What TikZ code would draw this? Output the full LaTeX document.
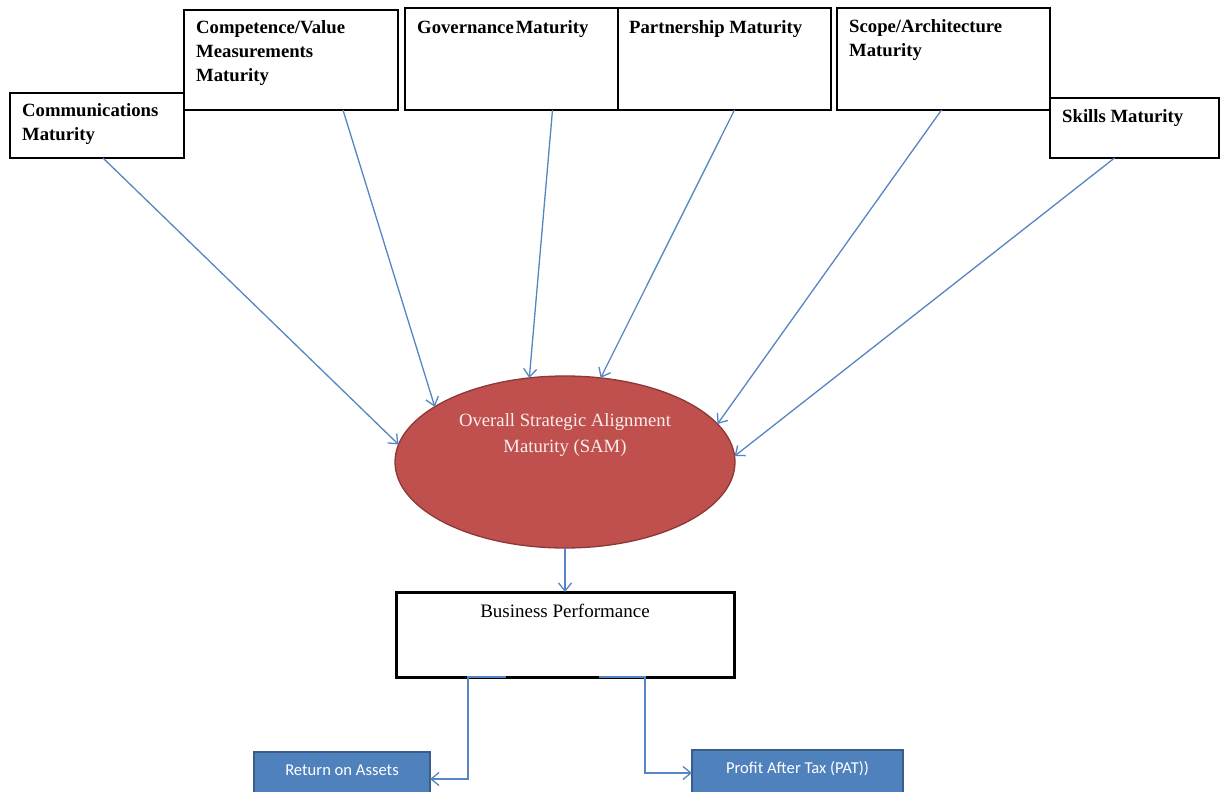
\documentclass[tikz,border=0pt]{standalone}
\usepackage{fontspec}
\setmainfont{Liberation Serif}
\newfontfamily\calfont{Carlito}
\usetikzlibrary{shapes.geometric,arrows.meta,calc}
\definecolor{linkblue}{HTML}{5585C2}
\definecolor{samred}{HTML}{C0504D}
\definecolor{samedge}{HTML}{8C3836}
\definecolor{samtext}{HTML}{FBEDED}
\definecolor{kpifill}{HTML}{4F81BD}
\definecolor{kpiedge}{HTML}{385D8A}

\begin{document}
\begin{tikzpicture}[x=1pt,y=-1pt,
  factor/.style={draw=black, line width=1.3pt, fill=white, outer sep=0pt, inner sep=0pt},
  factortext/.style={anchor=north west, inner sep=0pt, align=left,
    font=\bfseries\fontsize{18.7}{24}\selectfont},
  conn/.style={draw=linkblue, line width=1.3pt,
    -{Straight Barb[length=8pt,width=13pt,line width=1.3pt]}},
  kpi/.style={draw=kpiedge, line width=2pt, fill=kpifill, outer sep=0pt, inner sep=0pt},
  kpitext/.style={anchor=mid, inner sep=0pt, text=white, font=\calfont\fontsize{16.6}{20}\selectfont}]
\useasboundingbox (0,0) rectangle (1221,792);
\clip (0,0) rectangle (1221,792);
\fill[white] (0,0) rectangle (1221,792);

% maturity factors
\node[factor, minimum width=174pt, minimum height=65pt]  (comm)   at (97,125.5) {};
\node[factor, minimum width=214pt, minimum height=100pt] (comp)   at (291,60) {};
\node[factor, minimum width=213pt, minimum height=102pt] (gov)    at (511.5,59) {};
\node[factor, minimum width=213pt, minimum height=102pt] (part)   at (724.5,59) {};
\node[factor, minimum width=213pt, minimum height=102pt] (scope)  at (943.5,59) {};
\node[factor, minimum width=169pt, minimum height=60pt]  (skills) at (1134.5,128) {};

\node[factortext] (commtxt)   at ($(comm.north west)+(12,10)$)   {Communications\\Maturity};
\node[factortext] (comptxt)   at ($(comp.north west)+(12,10)$)   {Competence/Value\\Measurements\\Maturity};
\node[factortext] (govtxt)    at ($(gov.north west)+(12,12)$)    {Governance\hspace{2pt}Maturity};
\node[factortext] (parttxt)   at ($(part.north west)+(11,12)$)   {Partnership Maturity};
\node[factortext] (scopetxt)  at ($(scope.north west)+(12,11)$)  {Scope/Architecture\\Maturity};
\node[factortext] (skillstxt) at ($(skills.north west)+(12,11)$) {Skills Maturity};

% overall alignment maturity
\node[ellipse, draw=samedge, line width=1.3pt, fill=samred, inner sep=0pt, outer sep=0pt,
      minimum width=340pt, minimum height=172pt] (sam) at (565,462) {};
\node[anchor=north, inner sep=0pt, align=center, text=samtext,
      font=\fontsize{18.7}{26}\selectfont] (samtxt) at (565,413)
      {Overall Strategic Alignment\\Maturity (SAM)};

% business performance and its measures
\node[draw=black, line width=3pt, fill=white, outer sep=0pt, inner sep=0pt,
      minimum width=338pt, minimum height=85pt] (biz) at (565,634.5) {};
\node[anchor=base, inner sep=0pt, font=\fontsize{19}{22}\selectfont] (biztxt)
      at ($(biz.north)+(0,25)$) {Business Performance};

\node[kpi, minimum width=176pt, minimum height=54pt] (roa) at (342,779) {};
\node[kpitext] (roatxt) at (342,773) {Return on Assets};
\node[kpi, minimum width=211pt, minimum height=46pt] (pat) at (797.5,773) {};
\node[kpitext] (pattxt) at (797.5,771) {Profit After Tax (PAT))};

% connectors
\draw[conn] ($(comm.south)+(6,0)$)    -- (sam.174.6);
\draw[conn] ($(comp.south)+(52,0)$)   -- (sam.157.7);
\draw[conn] ($(gov.south)+(41,0)$)    -- (sam.113.8);
\draw[conn] ($(part.south)+(10,0)$)   -- (sam.67);
\draw[conn] ($(scope.south)+(-2,0)$)  -- (sam.14.5);
\draw[conn] ($(skills.south)+(-20,0)$) -- (sam.2.8);
\draw[conn] (sam.south) -- (biz.north);
\draw[conn] ($(biz.south west)+(110,0)$) -- ++(-38,0) |- (roa.east);
\draw[conn] ($(biz.south west)+(203,0)$) -- ++(46,0) |- (pat.west);
\end{tikzpicture}
\end{document}
